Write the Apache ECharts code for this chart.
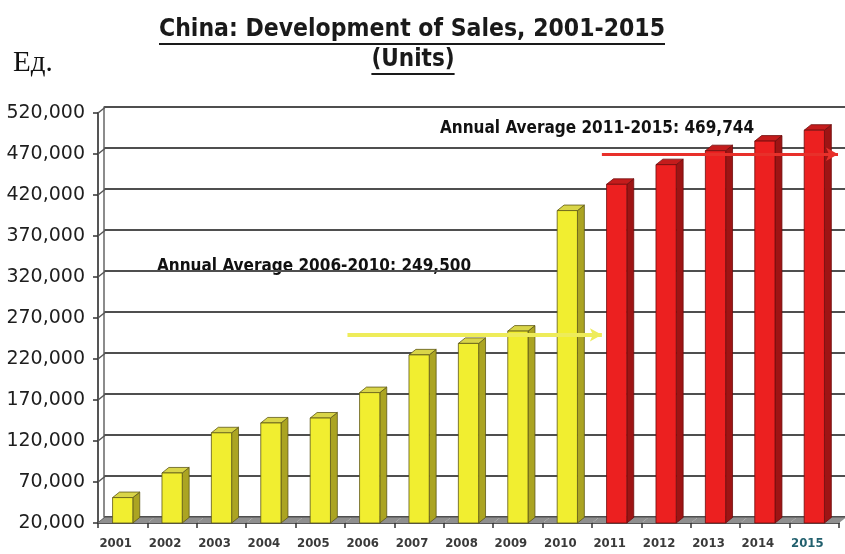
<!DOCTYPE html>
<html>
<head>
<meta charset="utf-8">
<title>China: Development of Sales, 2001-2015</title>
<script src="https://cdn.jsdelivr.net/npm/echarts@6/dist/echarts.min.js"></script>
<style>
  html, body { margin: 0; padding: 0; background: #ffffff; }
  #chart { width: 845px; height: 554px; }
</style>
</head>
<body>
<div id="chart"></div>
<script>
// Yearly unit sales in China
const years = ['2001', '2002', '2003', '2004', '2005', '2006', '2007', '2008',
               '2009', '2010', '2011', '2012', '2013', '2014', '2015'];
const sales = [51000, 81000, 130000, 142000, 148000, 179000, 225000, 239000,
               254000, 401000, 433000, 457000, 474000, 485720, 499000];
// Years from this one on are drawn in red
const redFrom = '2011';

// Value axis ticks
const yTicks = [20000, 70000, 120000, 170000, 220000, 270000, 320000,
                370000, 420000, 470000, 520000];

// Period averages shown as arrows
const avgEarly = 249500;
const avgLate = 469744;
const avgEarlyText = 'Annual Average 2006-2010: 249,500';
const avgLateText = 'Annual Average 2011-2015: 469,744';

const titleText = 'China: Development of Sales, 2001-2015';
const subtitleText = '(Units)';
const unitText = 'Ед.';

const yMin = yTicks[0];
const yMax = yTicks[yTicks.length - 1];
const yStep = yTicks[1] - yTicks[0];

const NARROW = "'Liberation Sans Narrow', 'Arial Narrow', 'DejaVu Sans Condensed', sans-serif";

const palette = {
  yellow: { front: '#f1ee30', side: '#aba422', top: '#d9d548', edge: '#5e5818' },
  red:    { front: '#ec2020', side: '#9e1414', top: '#c41c1c', edge: '#6e0c0c' }
};

// Depth of the 3D extrusion as a share of the category band
const DEPTH = 0.14;

// Front plane of the plot and the back wall behind it
const FRONT = { left: 98, right: 6, top: 113, bottom: 31 };
const BACK = { left: 104, right: 0, top: 107, bottom: 37 };

function renderColumn(params, api) {
  const idx = api.value(0);
  const val = api.value(1);
  const top = api.coord([idx, val]);
  const base = api.coord([idx, yMin]);
  const band = api.size([1, 0])[0];
  const w = band * 0.41;
  const dx = band * DEPTH;
  const dy = -dx * 0.8;
  const x0 = top[0] - w / 2, x1 = top[0] + w / 2;
  const yt = top[1], yb = base[1];
  const c = years[idx] >= redFrom ? palette.red : palette.yellow;
  const edge = { stroke: c.edge, lineWidth: 0.8 };
  return {
    type: 'group',
    children: [
      { type: 'polygon', shape: { points: [[x1, yt], [x1 + dx, yt + dy], [x1 + dx, yb + dy], [x1, yb]] },
        style: Object.assign({ fill: c.side }, edge) },
      { type: 'polygon', shape: { points: [[x0, yt], [x0 + dx, yt + dy], [x1 + dx, yt + dy], [x1, yt]] },
        style: Object.assign({ fill: c.top }, edge) },
      { type: 'rect', shape: { x: x0, y: yt, width: w, height: yb - yt },
        style: Object.assign({ fill: c.front }, edge) }
    ]
  };
}

function renderFloor(params, api) {
  const idx = api.value(0);
  const p = api.coord([idx, yMin]);
  const band = api.size([1, 0])[0];
  const dx = band * DEPTH;
  const dy = -dx * 0.8;
  const x0 = p[0] - band / 2, x1 = p[0] + band / 2;
  return {
    type: 'polygon',
    shape: { points: [[x0, p[1]], [x0 + dx, p[1] + dy], [x1 + dx, p[1] + dy], [x1, p[1]]] },
    style: { fill: '#8f8f8f' }
  };
}

// Short slanted links from each front tick to its wall gridline
function renderWallLink(params, api) {
  const v = api.value(1);
  const p = api.coord([0, v]);
  const band = api.size([1, 0])[0];
  const x = p[0] - band / 2;
  const dx = band * DEPTH;
  return {
    type: 'line',
    shape: { x1: x, y1: p[1], x2: x + dx, y2: p[1] - dx * 0.8 },
    style: { stroke: '#555555', lineWidth: 1.5 }
  };
}

const chart = echarts.init(document.getElementById('chart'), null, { renderer: 'canvas' });

const arrowLine = (value, x0, x1, color, width) => ({
  silent: true,
  symbol: ['none', 'arrow'],
  symbolSize: [10, 12],
  label: { show: false },
  lineStyle: { color: color, width: width, type: 'solid' },
  data: [[{ coord: [x0, value] }, { coord: [x1, value] }]]
});

chart.setOption({
  backgroundColor: '#ffffff',
  animation: false,
  grid: [
    Object.assign({ containLabel: false }, FRONT),
    Object.assign({ containLabel: false }, BACK)
  ],
  xAxis: [
    {
      type: 'category',
      gridIndex: 0,
      data: years,
      boundaryGap: true,
      axisLine: { show: true, lineStyle: { color: '#555555', width: 2 } },
      axisTick: { show: true, length: 5, inside: false, alignWithLabel: false,
                  lineStyle: { color: '#333333', width: 1.5 } },
      axisLabel: {
        margin: 14,
        fontFamily: NARROW,
        fontWeight: 'bold',
        fontSize: 13,
        padding: [0, 14, 0, 0],
        color: (v) => (v === years[years.length - 1] ? '#22606e' : '#3a3a3a')
      },
      splitLine: { show: false }
    },
    {
      // Continuous twin of the category axis, used to place the arrows
      type: 'value',
      gridIndex: 0,
      min: 0,
      max: years.length,
      show: false
    },
    {
      type: 'category',
      gridIndex: 1,
      data: years,
      show: false
    }
  ],
  yAxis: [
    {
      type: 'value',
      gridIndex: 0,
      min: yMin,
      max: yMax,
      interval: yStep,
      axisLine: { show: true, lineStyle: { color: '#555555', width: 2 } },
      axisTick: { show: true, length: 5, inside: false, lineStyle: { color: '#333333', width: 1.5 } },
      axisLabel: {
        margin: 13,
        fontFamily: "'DejaVu Sans', sans-serif",
        fontSize: 19,
        color: '#1e1e1e',
        formatter: (v) => v.toLocaleString('en-US')
      },
      splitLine: { show: false }
    },
    {
      // Back wall: gridlines and the wall's rear edge
      type: 'value',
      gridIndex: 1,
      min: yMin,
      max: yMax,
      interval: yStep,
      axisLine: { show: true, lineStyle: { color: '#666666', width: 1.5 } },
      axisTick: { show: false },
      axisLabel: { show: false },
      splitLine: { show: true, lineStyle: { color: '#4f4f4f', width: 2 } }
    }
  ],
  series: [
    {
      type: 'custom',
      name: 'wall',
      xAxisIndex: 0,
      yAxisIndex: 0,
      renderItem: renderWallLink,
      data: yTicks.map((v) => [0, v]),
      z: 1,
      silent: true
    },
    {
      type: 'custom',
      name: 'floor',
      xAxisIndex: 0,
      yAxisIndex: 0,
      renderItem: renderFloor,
      data: years.map((y, i) => [i, yMin]),
      z: 1,
      silent: true
    },
    {
      type: 'custom',
      name: 'Sales',
      xAxisIndex: 0,
      yAxisIndex: 0,
      renderItem: renderColumn,
      encode: { x: 0, y: 1 },
      data: sales.map((v, i) => [i, v]),
      z: 2
    },
    {
      type: 'line',
      name: 'avg-early',
      xAxisIndex: 1,
      yAxisIndex: 0,
      data: [],
      z: 3,
      markLine: arrowLine(avgEarly, 5.05, 10.2, '#eeec5a', 4)
    },
    {
      type: 'line',
      name: 'avg-late',
      xAxisIndex: 1,
      yAxisIndex: 0,
      data: [],
      z: 3,
      markLine: arrowLine(avgLate, 10.2, 14.98, '#e8302a', 3)
    }
  ],
  graphic: [
    { type: 'text', left: 13, top: 49,
      style: { text: unitText, fontFamily: "'Liberation Serif', serif", fontSize: 29, fill: '#111111' } },
    { type: 'text', x: 412, y: 30,
      style: { text: titleText, fontFamily: NARROW, fontWeight: 'bold', fontSize: 24.5,
               fill: '#1a1a1a', align: 'center', verticalAlign: 'middle' } },
    { type: 'text', x: 413, y: 60,
      style: { text: subtitleText, fontFamily: NARROW, fontWeight: 'bold', fontSize: 24,
               fill: '#1a1a1a', align: 'center', verticalAlign: 'middle' } },
    { type: 'text', x: 440, y: 129,
      style: { text: avgLateText, fontFamily: NARROW, fontWeight: 'bold', fontSize: 17,
               fill: '#111111', verticalAlign: 'middle' } },
    { type: 'text', x: 157, y: 267,
      style: { text: avgEarlyText, fontFamily: NARROW, fontWeight: 'bold', fontSize: 17,
               fill: '#111111', verticalAlign: 'middle' } }
  ]
});

// Underline the two title lines using their rendered widths
(function underline() {
  const ctx = document.createElement('canvas').getContext('2d');
  const lines = [];
  [[titleText, 412, 24.5, 43], [subtitleText, 413, 24, 73]].forEach(([t, cx, fs, y]) => {
    ctx.font = 'bold ' + fs + 'px ' + NARROW;
    const w = ctx.measureText(t).width;
    lines.push({ type: 'rect', shape: { x: cx - w / 2, y: y, width: w, height: 2 },
                 style: { fill: '#1a1a1a' } });
  });
  chart.setOption({ graphic: chart.getOption().graphic[0].elements.concat(lines) });
})();
</script>
</body>
</html>
